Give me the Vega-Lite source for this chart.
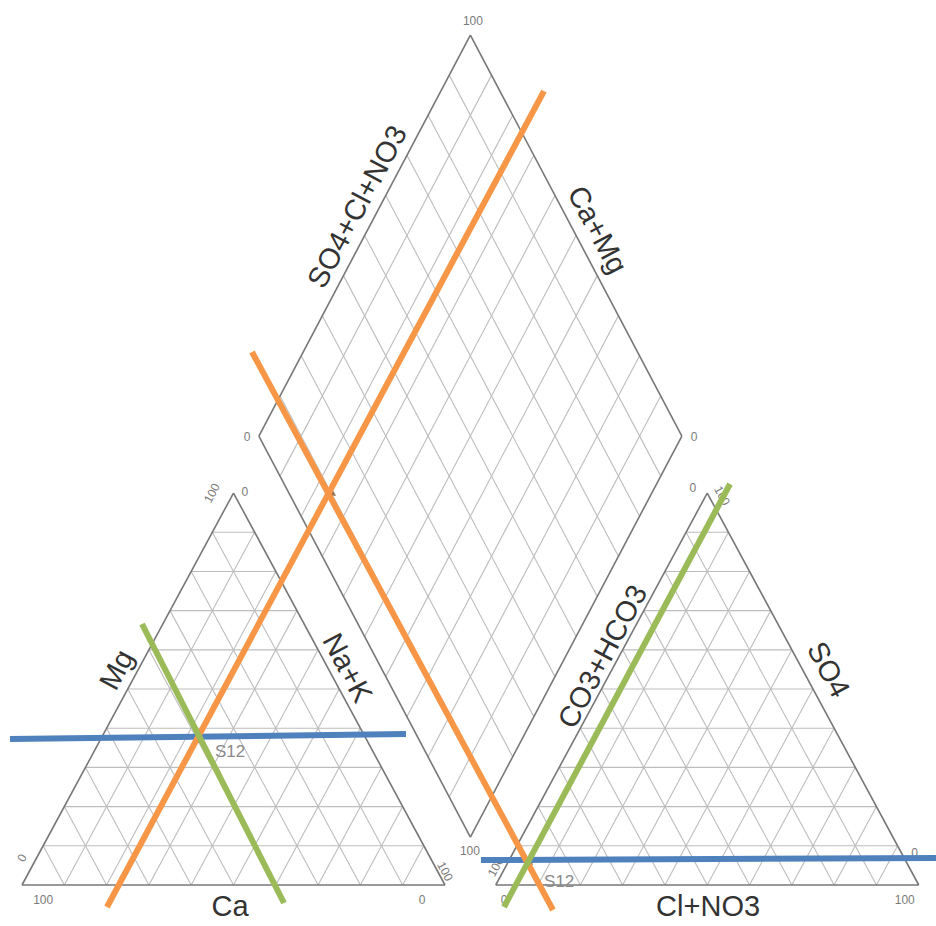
{
  "$schema": "https://vega.github.io/schema/vega-lite/v6.json",
  "width": 936,
  "height": 926,
  "autosize": {"type": "none"},
  "padding": 0,
  "background": "white",
  "config": {"view": {"stroke": null}, "text": {"font": "Liberation Sans"}},
  "datasets": {
    "segments": [
      {"g": "edge", "x": 0, "y": 0, "x2": 100, "y2": 0},
      {"g": "edge", "x": 0, "y": 0, "x2": 50, "y2": 86.6},
      {"g": "edge", "x": 100, "y": 0, "x2": 50, "y2": 86.6},
      {"g": "edge", "x": 112, "y": 0, "x2": 212, "y2": 0},
      {"g": "edge", "x": 112, "y": 0, "x2": 162, "y2": 86.6},
      {"g": "edge", "x": 212, "y": 0, "x2": 162, "y2": 86.6},
      {"g": "edge", "x": 106, "y": 10.6, "x2": 56, "y2": 99.2},
      {"g": "edge", "x": 106, "y": 10.6, "x2": 156, "y2": 99.2},
      {"g": "edge", "x": 56, "y": 99.2, "x2": 106, "y2": 187.8},
      {"g": "edge", "x": 156, "y": 99.2, "x2": 106, "y2": 187.8},

      {"g": "grid", "x": 5, "y": 8.66, "x2": 95, "y2": 8.66},
      {"g": "grid", "x": 10, "y": 17.32, "x2": 90, "y2": 17.32},
      {"g": "grid", "x": 15, "y": 25.98, "x2": 85, "y2": 25.98},
      {"g": "grid", "x": 20, "y": 34.64, "x2": 80, "y2": 34.64},
      {"g": "grid", "x": 25, "y": 43.3, "x2": 75, "y2": 43.3},
      {"g": "grid", "x": 30, "y": 51.96, "x2": 70, "y2": 51.96},
      {"g": "grid", "x": 35, "y": 60.62, "x2": 65, "y2": 60.62},
      {"g": "grid", "x": 40, "y": 69.28, "x2": 60, "y2": 69.28},
      {"g": "grid", "x": 45, "y": 77.94, "x2": 55, "y2": 77.94},
      {"g": "grid", "x": 10, "y": 0, "x2": 55, "y2": 77.94},
      {"g": "grid", "x": 20, "y": 0, "x2": 60, "y2": 69.28},
      {"g": "grid", "x": 30, "y": 0, "x2": 65, "y2": 60.62},
      {"g": "grid", "x": 40, "y": 0, "x2": 70, "y2": 51.96},
      {"g": "grid", "x": 50, "y": 0, "x2": 75, "y2": 43.3},
      {"g": "grid", "x": 60, "y": 0, "x2": 80, "y2": 34.64},
      {"g": "grid", "x": 70, "y": 0, "x2": 85, "y2": 25.98},
      {"g": "grid", "x": 80, "y": 0, "x2": 90, "y2": 17.32},
      {"g": "grid", "x": 90, "y": 0, "x2": 95, "y2": 8.66},
      {"g": "grid", "x": 10, "y": 0, "x2": 5, "y2": 8.66},
      {"g": "grid", "x": 20, "y": 0, "x2": 10, "y2": 17.32},
      {"g": "grid", "x": 30, "y": 0, "x2": 15, "y2": 25.98},
      {"g": "grid", "x": 40, "y": 0, "x2": 20, "y2": 34.64},
      {"g": "grid", "x": 50, "y": 0, "x2": 25, "y2": 43.3},
      {"g": "grid", "x": 60, "y": 0, "x2": 30, "y2": 51.96},
      {"g": "grid", "x": 70, "y": 0, "x2": 35, "y2": 60.62},
      {"g": "grid", "x": 80, "y": 0, "x2": 40, "y2": 69.28},
      {"g": "grid", "x": 90, "y": 0, "x2": 45, "y2": 77.94},

      {"g": "grid", "x": 117, "y": 8.66, "x2": 207, "y2": 8.66},
      {"g": "grid", "x": 122, "y": 17.32, "x2": 202, "y2": 17.32},
      {"g": "grid", "x": 127, "y": 25.98, "x2": 197, "y2": 25.98},
      {"g": "grid", "x": 132, "y": 34.64, "x2": 192, "y2": 34.64},
      {"g": "grid", "x": 137, "y": 43.3, "x2": 187, "y2": 43.3},
      {"g": "grid", "x": 142, "y": 51.96, "x2": 182, "y2": 51.96},
      {"g": "grid", "x": 147, "y": 60.62, "x2": 177, "y2": 60.62},
      {"g": "grid", "x": 152, "y": 69.28, "x2": 172, "y2": 69.28},
      {"g": "grid", "x": 157, "y": 77.94, "x2": 167, "y2": 77.94},
      {"g": "grid", "x": 122, "y": 0, "x2": 167, "y2": 77.94},
      {"g": "grid", "x": 132, "y": 0, "x2": 172, "y2": 69.28},
      {"g": "grid", "x": 142, "y": 0, "x2": 177, "y2": 60.62},
      {"g": "grid", "x": 152, "y": 0, "x2": 182, "y2": 51.96},
      {"g": "grid", "x": 162, "y": 0, "x2": 187, "y2": 43.3},
      {"g": "grid", "x": 172, "y": 0, "x2": 192, "y2": 34.64},
      {"g": "grid", "x": 182, "y": 0, "x2": 197, "y2": 25.98},
      {"g": "grid", "x": 192, "y": 0, "x2": 202, "y2": 17.32},
      {"g": "grid", "x": 202, "y": 0, "x2": 207, "y2": 8.66},
      {"g": "grid", "x": 122, "y": 0, "x2": 117, "y2": 8.66},
      {"g": "grid", "x": 132, "y": 0, "x2": 122, "y2": 17.32},
      {"g": "grid", "x": 142, "y": 0, "x2": 127, "y2": 25.98},
      {"g": "grid", "x": 152, "y": 0, "x2": 132, "y2": 34.64},
      {"g": "grid", "x": 162, "y": 0, "x2": 137, "y2": 43.3},
      {"g": "grid", "x": 172, "y": 0, "x2": 142, "y2": 51.96},
      {"g": "grid", "x": 182, "y": 0, "x2": 147, "y2": 60.62},
      {"g": "grid", "x": 192, "y": 0, "x2": 152, "y2": 69.28},
      {"g": "grid", "x": 202, "y": 0, "x2": 157, "y2": 77.94},

      {"g": "grid", "x": 111, "y": 19.46, "x2": 61, "y2": 108.06},
      {"g": "grid", "x": 116, "y": 28.32, "x2": 66, "y2": 116.92},
      {"g": "grid", "x": 121, "y": 37.18, "x2": 71, "y2": 125.78},
      {"g": "grid", "x": 126, "y": 46.04, "x2": 76, "y2": 134.64},
      {"g": "grid", "x": 131, "y": 54.9, "x2": 81, "y2": 143.5},
      {"g": "grid", "x": 136, "y": 63.76, "x2": 86, "y2": 152.36},
      {"g": "grid", "x": 141, "y": 72.62, "x2": 91, "y2": 161.22},
      {"g": "grid", "x": 146, "y": 81.48, "x2": 96, "y2": 170.08},
      {"g": "grid", "x": 151, "y": 90.34, "x2": 101, "y2": 178.94},
      {"g": "grid", "x": 101, "y": 19.46, "x2": 151, "y2": 108.06},
      {"g": "grid", "x": 96, "y": 28.32, "x2": 146, "y2": 116.92},
      {"g": "grid", "x": 91, "y": 37.18, "x2": 141, "y2": 125.78},
      {"g": "grid", "x": 86, "y": 46.04, "x2": 136, "y2": 134.64},
      {"g": "grid", "x": 81, "y": 54.9, "x2": 131, "y2": 143.5},
      {"g": "grid", "x": 76, "y": 63.76, "x2": 126, "y2": 152.36},
      {"g": "grid", "x": 71, "y": 72.62, "x2": 121, "y2": 161.22},
      {"g": "grid", "x": 66, "y": 81.48, "x2": 116, "y2": 170.08},
      {"g": "grid", "x": 61, "y": 90.34, "x2": 111, "y2": 178.94}
    ],
    "titles": [
      {"dir": "h", "label": "Ca", "x": 49.2, "y": -4.9},
      {"dir": "h", "label": "Cl+NO3", "x": 162.2, "y": -4.9},
      {"dir": "up", "label": "Mg", "x": 22.5, "y": 47.5},
      {"dir": "down", "label": "Na+K", "x": 76.8, "y": 47.9},
      {"dir": "up", "label": "CO3+HCO3", "x": 137.4, "y": 50.4},
      {"dir": "down", "label": "SO4", "x": 190.5, "y": 47.5},
      {"dir": "up", "label": "SO4+Cl+NO3", "x": 79.4, "y": 149.8},
      {"dir": "down", "label": "Ca+Mg", "x": 135.9, "y": 144.7}
    ],
    "ticks": [
      {"dir": "h", "label": "100", "x": 106.6, "y": 190.9},
      {"dir": "h", "label": "0", "x": 53.2, "y": 99.0},
      {"dir": "h", "label": "0", "x": 158.9, "y": 99.0},
      {"dir": "h", "label": "100", "x": 105.9, "y": 7.5},
      {"dir": "h", "label": "100", "x": 5.0, "y": -3.3},
      {"dir": "h", "label": "0", "x": 94.6, "y": -3.3},
      {"dir": "h", "label": "100", "x": 208.7, "y": -3.3},
      {"dir": "h", "label": "0", "x": 114.0, "y": -3.3},
      {"dir": "h", "label": "0", "x": 52.7, "y": 86.8},
      {"dir": "h", "label": "0", "x": 158.6, "y": 87.7},
      {"dir": "h", "label": "0", "x": 211.0, "y": 7.0},
      {"dir": "up", "label": "0", "x": 0.0, "y": 6.0},
      {"dir": "up", "label": "100", "x": 44.9, "y": 86.6},
      {"dir": "down", "label": "100", "x": 100.0, "y": 3.0},
      {"dir": "up", "label": "100", "x": 112.0, "y": 4.0},
      {"dir": "down", "label": "100", "x": 165.5, "y": 86.0}
    ],
    "samples": [
      {"sample": "S12", "panel": "cations", "x": 41.8, "y": 32.0, "lx": 49.2, "ly": 29.4},
      {"sample": "S12", "panel": "diamond", "x": 73.5, "y": 86.6, "lx": null, "ly": null},
      {"sample": "S12", "panel": "anions", "x": 120.1, "y": 5.1, "lx": 127.0, "ly": 0.7}
    ],
    "overlay": [
      {"set": "A", "x": -2.84, "y": 32.26, "x2": 90.78, "y2": 33.36},
      {"set": "A", "x": 108.5, "y": 5.52, "x2": 216.5, "y2": 5.97},
      {"set": "B", "x": 20.09, "y": -4.86, "x2": 123.4, "y2": 175.4},
      {"set": "B", "x": 54.37, "y": 117.77, "x2": 125.53, "y2": -5.52},
      {"set": "C", "x": 28.37, "y": 57.67, "x2": 61.94, "y2": -3.98},
      {"set": "C", "x": 113.95, "y": -4.86, "x2": 167.38, "y2": 88.6}
    ]
  },
  "encoding": {
    "x": {"field": "x", "type": "quantitative", "scale": {"domain": [-5.201, 216.08], "nice": false, "zero": false}, "axis": null},
    "y": {"field": "y", "type": "quantitative", "scale": {"domain": [-9.06, 195.54], "nice": false, "zero": false}, "axis": null}
  },
  "layer": [
    {
      "data": {"name": "segments"},
      "transform": [{"filter": "datum.g === 'grid'"}],
      "mark": {"type": "rule", "stroke": "#bdbdbd", "strokeWidth": 1.1},
      "encoding": {"x2": {"field": "x2"}, "y2": {"field": "y2"}}
    },
    {
      "data": {"name": "segments"},
      "transform": [{"filter": "datum.g === 'edge'"}],
      "mark": {"type": "rule", "stroke": "#777777", "strokeWidth": 1.6},
      "encoding": {"x2": {"field": "x2"}, "y2": {"field": "y2"}}
    },
    {
      "data": {"name": "ticks"},
      "transform": [{"filter": "datum.dir === 'h'"}],
      "mark": {"type": "text", "fontSize": 12, "fill": "#7a7a7a", "baseline": "middle", "align": "center"},
      "encoding": {"text": {"field": "label"}}
    },
    {
      "data": {"name": "ticks"},
      "transform": [{"filter": "datum.dir === 'up'"}],
      "mark": {"type": "text", "fontSize": 12, "fill": "#7a7a7a", "baseline": "middle", "align": "center", "angle": -62},
      "encoding": {"text": {"field": "label"}}
    },
    {
      "data": {"name": "ticks"},
      "transform": [{"filter": "datum.dir === 'down'"}],
      "mark": {"type": "text", "fontSize": 12, "fill": "#7a7a7a", "baseline": "middle", "align": "center", "angle": 62},
      "encoding": {"text": {"field": "label"}}
    },
    {
      "data": {"name": "titles"},
      "transform": [{"filter": "datum.dir === 'h'"}],
      "mark": {"type": "text", "fontSize": 29, "fill": "#333333", "baseline": "middle", "align": "center"},
      "encoding": {"text": {"field": "label"}}
    },
    {
      "data": {"name": "titles"},
      "transform": [{"filter": "datum.dir === 'up'"}],
      "mark": {"type": "text", "fontSize": 29, "fill": "#333333", "baseline": "middle", "align": "center", "angle": -62},
      "encoding": {"text": {"field": "label"}}
    },
    {
      "data": {"name": "titles"},
      "transform": [{"filter": "datum.dir === 'down'"}],
      "mark": {"type": "text", "fontSize": 29, "fill": "#333333", "baseline": "middle", "align": "center", "angle": 62},
      "encoding": {"text": {"field": "label"}}
    },
    {
      "data": {"name": "samples"},
      "mark": {"type": "point", "shape": "triangle-up", "filled": true, "fill": "#7a5230", "size": 40, "opacity": 0.8},
      "encoding": {}
    },
    {
      "data": {"name": "samples"},
      "transform": [{"filter": "datum.lx != null"}],
      "mark": {"type": "text", "fontSize": 17, "fill": "#8a8a8a", "baseline": "middle", "align": "center"},
      "encoding": {
        "x": {"field": "lx", "type": "quantitative"},
        "y": {"field": "ly", "type": "quantitative"},
        "text": {"field": "sample"}
      }
    },
    {
      "data": {"name": "overlay"},
      "mark": {"type": "rule", "strokeWidth": 6, "strokeCap": "butt"},
      "encoding": {
        "x2": {"field": "x2"},
        "y2": {"field": "y2"},
        "color": {"field": "set", "type": "nominal", "scale": {"domain": ["A", "B", "C"], "range": ["#4F81BD", "#F79646", "#9BBB59"]}, "legend": null}
      }
    }
  ]
}
